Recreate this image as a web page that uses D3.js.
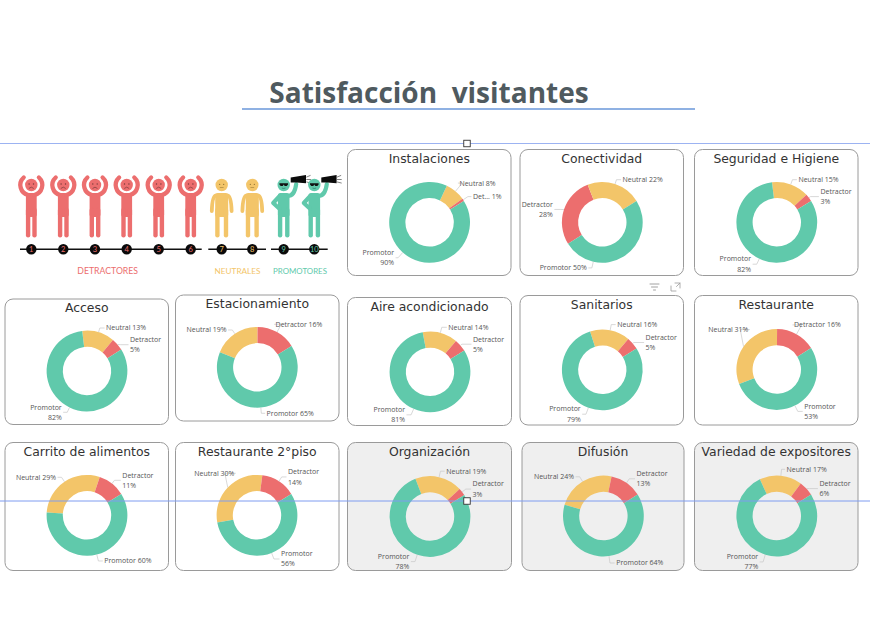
<!DOCTYPE html>
<html><head><meta charset="utf-8">
<script src="https://cdn.jsdelivr.net/npm/d3@7"></script>
<style>html,body{margin:0;padding:0;background:#fff}svg{display:block}</style>
</head><body><svg id="c" width="870" height="620"></svg>
<script>
// ---- data ----
const chartTitle = "Satisfacción  visitantes";
const panelTitles = ["Instalaciones","Conectividad","Seguridad e Higiene","Acceso","Estacionamiento","Aire acondicionado","Sanitarios","Restaurante","Carrito de alimentos","Restaurante 2°piso","Organización","Difusión","Variedad de expositores"];
const neutralPct   = [8,22,15,13,19,14,16,31,29,30,19,24,17];
const detractorPct = [1,28,3,5,16,5,5,16,11,14,3,13,6];
const promotorPct  = [90,50,82,82,65,81,79,53,60,56,78,64,77];
const detractorNames = ["Det...","Detractor","Detractor","Detractor","Detractor","Detractor","Detractor","Detractor","Detractor","Detractor","Detractor","Detractor","Detractor"];
const scaleNumbers = [1,2,3,4,5,6,7,8,9,10];
const groupNames = ["DETRACTORES","NEUTRALES","PROMOTORES"];

// ---- layout ----
const colors = {Neutral:"#F3C569",Detractor:"#EC6E6E",Promotor:"#60C9AB"};
const panelBoxes = [[347.5,149.5,163.5,126],[520,149.5,163.5,126],[694.5,149.5,163.5,126],
 [5,299,163.5,125.5],[175.5,295,163.5,126],[347.5,297.5,164,128],[520,295.5,163.5,129.5],[694.5,295.5,163.5,129.5],
 [5,442.5,163.5,128],[175.5,442.5,163.5,128],[347.5,442.5,164,128],[522,442.5,162,128],[694.5,442.5,163.5,128]];
const donutCentres = [[429.6,222.3],[602.3,222.3],[776.8,222.3],[87,371],[257.3,367.3],[430,371.9],[602.3,369.9],[776.8,369.5],[87,515.3],[257,515.3],[430,516.5],[603.4,516],[776.8,516]];
const shaded = new Set([10,11,12]);
// label spots relative to the donut centre: [dx, y of line 1, y of line 2 if wrapped]; dx<0 means right-aligned
const labelSpots = [
 {N:[29.8,-39.2],D:[43.3,-25.7],P:[-35.5,30.4,40.5]},
 {N:[20.3,-42.6],D:[-49.4,-17.9,-7.8],P:[-15.5,45.6]},
 {N:[21.6,-42.6],D:[43.6,-30.8,-20.6],P:[-25.7,36.8,47]},
 {N:[19,-43],D:[43,-31.3,-21.3],P:[-25.3,36.3,46.3]},
 {N:[-30.7,-37.3],D:[18.3,-43],P:[9.3,46]},
 {N:[18.3,-44.6],D:[43,-32.8,-22.6],P:[-25,37.9,48]},
 {N:[14.9,-45.3],D:[43.3,-32.5,-22.3],P:[-21.6,39.2,49.4]},
 {N:[-28.4,-39.9],D:[17.2,-44.6],P:[27.4,36.8,47]},
 {N:[-31,-38],D:[35.3,-40,-30],P:[17.3,45.7]},
 {N:[-22.7,-42],D:[31,-43.7,-33],P:[24,38.7,48.7]},
 {N:[16.2,-45.3],D:[42.6,-32.5,-22.3],P:[-20.6,40.2,50]},
 {N:[-29.4,-39.2],D:[33.1,-42.3,-32.1],P:[12.8,47]},
 {N:[9.8,-46.7],D:[42.6,-32.5,-22.3],P:[-18.6,40.9,51]}];
const figureX = [31.3,63.3,95,126.7,158.7,190.7,221.7,252.3,283.7,314.3];
const lineRuns = [[20,201.7],[208.3,266],[271,327.7]];
const groupLabelX = [107.7,237.5,300];
const groupLabelSize = [8.7,8.2,7.9];
const promoterStart = 58*Math.PI/180;
const R = 40.4, r0 = 24.2;

const svg = d3.select("#c");
// title
svg.append("text").attr("x",429).attr("y",103).attr("text-anchor","middle")
  .style("white-space","pre").attr("font-family","'Open Sans'").attr("font-weight",700).attr("font-size",28)
  .attr("fill","#4F5A5F").text(chartTitle);
svg.append("line").attr("x1",242).attr("x2",695).attr("y1",109).attr("y2",109).attr("stroke","#8FB1E3").attr("stroke-width",2);

// panels
const arc = d3.arc().innerRadius(r0).outerRadius(R);
panelTitles.forEach((title,i)=>{
  const [x,y,w,h] = panelBoxes[i], [cx,cy] = donutCentres[i];
  svg.append("rect").attr("x",x).attr("y",y).attr("width",w).attr("height",h).attr("rx",8)
    .attr("fill",shaded.has(i)?"#EFEFEF":"#fff").attr("stroke","#9A9A9A").attr("stroke-width",1);
  svg.append("text").attr("x",x+w/2).attr("y",y+13).attr("text-anchor","middle")
    .attr("font-family","'DejaVu Sans'").attr("font-size",12.4).attr("fill","#333").text(title);
  const slices = [
    {key:"Neutral",short:"N",name:"Neutral",v:neutralPct[i]},
    {key:"Detractor",short:"D",name:detractorNames[i],v:detractorPct[i]},
    {key:"Promotor",short:"P",name:"Promotor",v:promotorPct[i]}];
  if (title==="Conectividad") slices.reverse(), slices.push(slices.shift());
  const total = d3.sum(slices,d=>d.v);
  const lead = (total-promotorPct[i])/total*2*Math.PI;
  const a0 = promoterStart-lead;
  const pie = d3.pie().value(d=>d.v).sort(null).startAngle(a0).endAngle(a0+2*Math.PI);
  const g = svg.append("g").attr("transform",`translate(${cx},${cy})`);
  const arcs = pie(slices);
  g.selectAll("path.s").data(arcs).join("path").attr("class","s").attr("d",arc).attr("fill",d=>colors[d.data.key]);
  arcs.forEach(a=>{
    const spot = labelSpots[i][a.data.short];
    const dx = spot[0], two = spot.length===3;
    const ly = two ? (spot[1]+spot[2])/2 : spot[1];
    const mid = (a.startAngle+a.endAngle)/2;
    let sn=Math.sin(mid), cs=Math.cos(mid);
    const tx = dx>=0 ? dx-1.5 : dx+1.5;
    // a label on the other side of the slice's middle: tie the leader to the nearest rim point instead
    if (sn*dx<0 && Math.abs(sn)>0.2) {
      const px = tx + (dx>=0 ? -5 : 5);
      sn = px/R; cs = -Math.sign(ly)*Math.sqrt(1-sn*sn);
    }
    let er = Math.abs(cs)>0.1 ? -ly/cs : 0;
    if (!(er>R+1 && er<R+14)) er = R+4;
    const ex = er*sn;
    g.append("path").attr("fill","none").attr("stroke","#C8C8C8").attr("stroke-width",0.7)
      .attr("d",d3.line()([[R*sn,-R*cs],[ex,ly],[tx,ly]]));
    const t = g.append("text").attr("font-family","'Open Sans'").attr("font-size",7).attr("fill","#555")
      .attr("text-anchor",dx>=0?"start":"end");
    if (two) {
      t.append("tspan").attr("x",dx).attr("y",spot[1]+2.4).text(a.data.name);
      t.append("tspan").attr("x",dx).attr("y",spot[2]+2.4).text(a.data.v+"%");
    } else {
      t.attr("x",dx).attr("y",spot[1]+2.4).text(a.data.name+" "+a.data.v+"%");
    }
  });
});

// pictograms
function legs(g,c,hw){
  g.append("rect").attr("x",-hw).attr("y",193).attr("width",2*hw).attr("height",24).attr("rx",2.5).attr("fill",c);
  [-(hw-2.2),hw-2.2].forEach(l=>g.append("line").attr("x1",l).attr("x2",l).attr("y1",210).attr("y2",235.3)
     .attr("stroke",c).attr("stroke-width",4.4).attr("stroke-linecap","round"));
}
function stroke(g,d,c,w){ g.append("path").attr("d",d).attr("fill","none").attr("stroke",c).attr("stroke-width",w).attr("stroke-linecap","round").attr("stroke-linejoin","round"); }
figureX.forEach((fx,i)=>{
  const g = svg.append("g").attr("transform",`translate(${fx},0)`);
  const dark = "#7a3b3b";
  if (i<6){
    const c = colors.Detractor;
    legs(g,c,5.4);
    stroke(g,"M-7.6 177.5 A 10.2 10.2 0 0 0 -3 195",c,4.3);
    stroke(g,"M7.6 177.5 A 10.2 10.2 0 0 1 3 195",c,4.3);
    g.append("circle").attr("cx",0).attr("cy",185).attr("r",6.2).attr("fill",c);
    g.append("circle").attr("cx",-2.2).attr("cy",184).attr("r",0.7).attr("fill",dark);
    g.append("circle").attr("cx",2.2).attr("cy",184).attr("r",0.7).attr("fill",dark);
    stroke(g,"M-2.2 188.2 Q0 185.8 2.2 188.2",dark,0.7);
  } else if (i<8){
    const c = colors.Neutral, dk="#8a6d2f";
    legs(g,c,6.5);
    stroke(g,"M-6 195.5 Q-9.5 196.5 -9.9 211",c,3.8);
    stroke(g,"M6 195.5 Q9.5 196.5 9.9 211",c,3.8);
    g.append("circle").attr("cx",0).attr("cy",185).attr("r",6.2).attr("fill",c);
    g.append("circle").attr("cx",-2).attr("cy",184.4).attr("r",0.55).attr("fill",dk);
    g.append("circle").attr("cx",2).attr("cy",184.4).attr("r",0.55).attr("fill",dk);
    stroke(g,"M-1.5 187.5 L1.5 187.5",dk,0.5);
  } else {
    const c = colors.Promotor;
    legs(g,c,5.8);
    stroke(g,"M-4 196 L-10.5 203 L-4.5 208.5",c,4.2);
    stroke(g,"M4 196 Q11 196 12.5 184",c,4.2);
    g.append("circle").attr("cx",0).attr("cy",185).attr("r",6.2).attr("fill",c);
    g.append("path").attr("d","M-4.3 183.2 H4.3 V184.4 L3 186 H1 L0 184.6 L-1 186 H-3 L-4.3 184.4 Z").attr("fill","#111");
    stroke(g,"M-1.5 188.2 Q0 189 1.5 188.2","#1d5c4a",0.5);
    g.append("path").attr("d","M7 177.5 L7 182.5 L13 182.5 L22.3 183.2 L22.3 175 Z").attr("fill","#0b0b0b");
    stroke(g,"M23 177 L26.5 175.5 M23 179.5 L27 179.5 M23 182 L27 183","#333",0.6);
  }
});
// number line
lineRuns.forEach(([a,b])=>svg.append("line").attr("x1",a).attr("x2",b).attr("y1",249.3).attr("y2",249.3).attr("stroke","#111").attr("stroke-width",1.6));
scaleNumbers.forEach((n,i)=>{
  const c = i<6?colors.Detractor:i<8?colors.Neutral:colors.Promotor;
  svg.append("circle").attr("cx",figureX[i]).attr("cy",249.3).attr("r",5.2).attr("fill","#0a0a0a");
  svg.append("text").attr("x",figureX[i]).attr("y",252).attr("text-anchor","middle")
    .attr("font-family","'Lato'").attr("font-size",7.5).attr("fill",c).text(n);
});
groupNames.forEach((n,i)=>{
  svg.append("text").attr("x",groupLabelX[i]).attr("y",273.5).attr("text-anchor","middle")
    .attr("font-family","'Lato'").attr("font-size",groupLabelSize[i]).attr("fill",[colors.Detractor,colors.Neutral,colors.Promotor][i]).text(n);
});

// selection guides and handles
[[143.5,"#9CB3F2"],[501,"#7F9CF0"]].forEach(([y,c])=>svg.append("line").attr("x1",0).attr("x2",870).attr("y1",y).attr("y2",y).attr("stroke",c).attr("stroke-width",1));
[[467,143.5],[467,501]].forEach(([x,y])=>svg.append("rect").attr("x",x-3.25).attr("y",y-3.25).attr("width",6.5).attr("height",6.5).attr("fill","#fff").attr("stroke","#333").attr("stroke-width",0.9));

// visual header icons
stroke(svg,"M650 284 H659 M651.5 287 H657.5 M653.5 290 H655.5","#8a8a8a",0.8);
stroke(svg,"M671 286 V291 H676 M675 283 H680 V288 M676.5 286.5 L680 283","#9a9a9a",0.8);
</script></body></html>
